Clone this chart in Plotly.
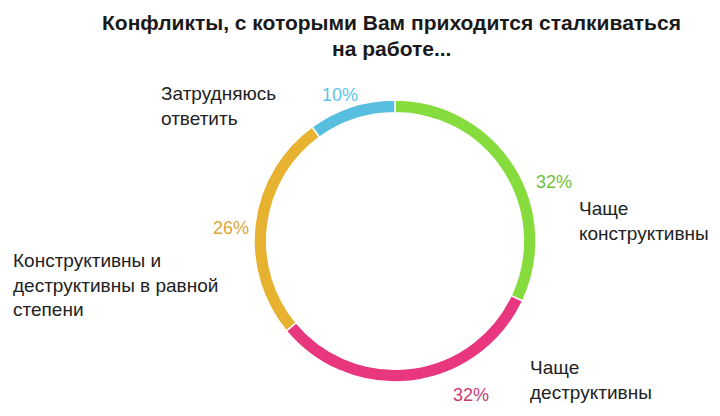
import plotly.graph_objects as go

# data
categories = ["Чаще<br>конструктивны", "Чаще<br>деструктивны",
              "Конструктивны и<br>деструктивны в равной<br>степени",
              "Затрудняюсь<br>ответить"]
values = [32, 32, 26, 10]
slice_colors = ["#85DC3C", "#E8377F", "#E6B22F", "#58BEE0"]
pct_colors = ["#6FBF3A", "#C93A74", "#D8A637", "#5CC4E6"]
title_lines = ["Конфликты, с которыми Вам приходится сталкиваться", "на работе..."]

# page has an 8px body margin, so everything is placed 8px up/left
W, H = 720, 416
OFF = 8
cx, cy, r = 395 - OFF, 241 - OFF, 141


def px(x):
    return (x - OFF) / W


def py(y):
    return 1 - (y - OFF) / H


fig = go.Figure()
fig.add_trace(go.Pie(
    labels=[c.replace("<br>", " ") for c in categories],
    values=values,
    sort=False,
    direction="clockwise",
    rotation=0,
    hole=0.91,
    marker=dict(colors=slice_colors, line=dict(color="white", width=1.5)),
    textinfo="none",
    hoverinfo="label+percent",
    showlegend=False,
    domain=dict(x=[(cx - r) / W, (cx + r) / W],
                y=[(H - cy - r) / H, (H - cy + r) / H]),
))

# label placement in reference pixels: percent label center, category label left/middle
pct_pos = [(554, 182), (471, 395), (231, 228), (340, 95)]
cat_pos = [(577, 221), (528, 380), (11, 285), (159, 106)]

annotations = []
for cat, v, col, (ax_, ay_), (bx, by) in zip(categories, values, pct_colors, pct_pos, cat_pos):
    annotations.append(dict(
        text=f"{v}%", x=px(ax_), y=py(ay_), xref="paper", yref="paper",
        xanchor="center", yanchor="middle", showarrow=False,
        font=dict(family="Liberation Sans, Arial", size=18, color=col)))
    annotations.append(dict(
        text=cat, x=px(bx), y=py(by), xref="paper", yref="paper",
        xanchor="left", yanchor="middle", align="left", showarrow=False,
        font=dict(family="Liberation Sans, Arial", size=19, color="#222222")))

for line, ty in zip(title_lines, [23, 48]):
    annotations.append(dict(
        text=f"<b>{line}</b>", x=px(391), y=py(ty), xref="paper", yref="paper",
        xanchor="center", yanchor="middle", showarrow=False,
        font=dict(family="Liberation Sans, Arial", size=21, color="#1a1a1a")))

fig.update_layout(
    width=W, height=H,
    margin=dict(l=0, r=0, t=0, b=0),
    paper_bgcolor="white",
    plot_bgcolor="white",
    annotations=annotations,
)

fig.write_html("out.html")
